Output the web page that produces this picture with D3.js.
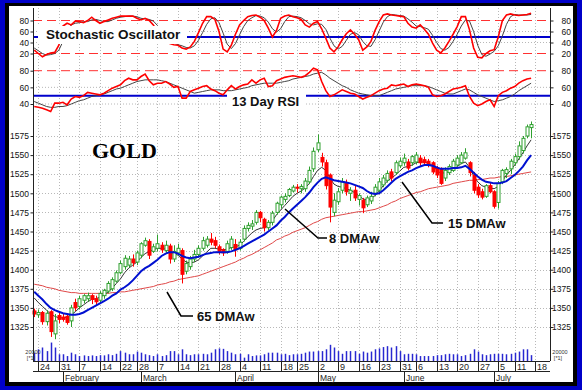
<!DOCTYPE html>
<html><head><meta charset="utf-8">
<script src="https://cdn.jsdelivr.net/npm/d3@7"></script>
<style>body{margin:0;background:#fff}svg{display:block}</style>
</head><body><script>
// ---------- DATA ----------
const dates = [
"01-21","01-24","01-25","01-26","01-27","01-28","01-31",
"02-01","02-02","02-03","02-04","02-07","02-08","02-09","02-10","02-11","02-14","02-15","02-16","02-17","02-18","02-22","02-23","02-24","02-25","02-28",
"03-01","03-02","03-03","03-04","03-07","03-08","03-09","03-10","03-11","03-14","03-15","03-16","03-17","03-18","03-21","03-22","03-23","03-24","03-25","03-28","03-29","03-30","03-31",
"04-01","04-04","04-05","04-06","04-07","04-08","04-11","04-12","04-13","04-14","04-15","04-18","04-19","04-20","04-21","04-25","04-26","04-27","04-28","04-29",
"05-02","05-03","05-04","05-05","05-06","05-09","05-10","05-11","05-12","05-13","05-16","05-17","05-18","05-19","05-20","05-23","05-24","05-25","05-26","05-27","05-31",
"06-01","06-02","06-03","06-06","06-07","06-08","06-09","06-10","06-13","06-14","06-15","06-16","06-17","06-20","06-21","06-22","06-23","06-24","06-27","06-28","06-29","06-30",
"07-01","07-05","07-06","07-07","07-08","07-11","07-12","07-13","07-14","07-15"];

const open = [
1346,1341,1344,1332,1345,1316,1340,1338,1339,1333,
1357,1352,1360,1362,1366,1362,1360,1366,1372,1375,
1385,1396,1404,1406,1414,1410,1419,1432,1437,1424,
1428,1432,1425,1431,1414,1422,1425,1398,1404,1414,
1420,1428,1432,1440,1438,1430,1426,1424,1429,1433,
1428,1440,1454,1457,1462,1475,1466,1455,1462,1475,
1485,1492,1497,1503,1508,1506,1506,1515,1532,1557,
1547,1540,1524,1475,1489,1504,1513,1500,1504,1492,
1491,1485,1490,1500,1504,1511,1517,1528,1527,1536,
1540,1541,1540,1541,1546,1544,1542,1540,1533,1531,
1520,1527,1530,1537,1540,1546,1540,1524,1508,1502,
1496,1510,1502,1488,1515,1526,1532,1540,1548,1556,1575,1586];
const high = [
1349,1348,1346,1347,1347,1342,1344,1342,1341,1354,
1362,1366,1368,1370,1368,1366,1372,1375,1385,1390,
1399,1412,1419,1418,1420,1425,1436,1442,1440,1434,
1446,1436,1438,1434,1432,1434,1428,1412,1418,1426,
1432,1443,1444,1448,1443,1433,1428,1438,1444,1440,
1440,1458,1462,1465,1478,1477,1468,1465,1477,1489,
1497,1500,1507,1511,1512,1512,1520,1535,1560,1577,
1553,1544,1526,1500,1507,1520,1518,1508,1510,1500,
1494,1497,1502,1512,1520,1524,1530,1532,1543,1547,
1552,1545,1550,1554,1550,1548,1545,1542,1536,1534,
1534,1538,1545,1550,1554,1559,1542,1528,1512,1506,
1512,1514,1504,1516,1532,1534,1545,1552,1568,1575,1590,1594];
const low = [
1338,1337,1328,1327,1312,1309,1330,1332,1328,1325,
1346,1348,1356,1358,1355,1354,1356,1362,1369,1372,
1383,1394,1400,1403,1404,1406,1415,1430,1414,1422,
1424,1422,1422,1408,1410,1418,1382,1394,1400,1410,
1416,1425,1429,1432,1428,1420,1418,1421,1426,1417,
1425,1437,1450,1452,1459,1462,1450,1452,1458,1472,
1480,1488,1495,1501,1501,1500,1502,1512,1528,1554,
1535,1505,1462,1470,1485,1500,1497,1490,1490,1484,
1474,1482,1486,1496,1500,1508,1514,1516,1524,1533,
1536,1530,1536,1538,1536,1536,1534,1525,1520,1511,
1516,1524,1528,1535,1538,1544,1522,1500,1494,1492,
1494,1500,1480,1480,1512,1520,1525,1536,1544,1552,1572,1572];
const close = [
1342,1344,1332,1343,1319,1333,1335,1335,1331,1350,
1350,1362,1366,1366,1361,1358,1369,1373,1382,1387,
1396,1408,1415,1414,1409,1422,1434,1438,1419,1430,
1434,1426,1432,1414,1424,1428,1394,1408,1414,1420,
1428,1438,1440,1436,1432,1424,1422,1434,1440,1426,
1436,1454,1458,1460,1475,1468,1455,1462,1474,1487,
1495,1496,1505,1508,1507,1509,1516,1530,1555,1566,
1541,1510,1482,1491,1502,1515,1502,1504,1494,1497,
1481,1494,1496,1508,1515,1520,1526,1520,1540,1542,
1546,1533,1548,1550,1540,1540,1537,1528,1524,1513,
1530,1535,1542,1546,1550,1553,1527,1504,1498,1495,
1510,1502,1483,1513,1530,1531,1542,1548,1562,1572,1587,1590];
// volume in thousands
const volume = [
18.5,26,30,22,41,30,15,15,11,18.5,
15,11,12.5,11,12.5,11,13,12.5,15,13,
16,22,18.5,15,15,21,18.5,15,13,11,
15,11,13,22,22,15,26,15,13,15,
15,16,15,18.5,26,28,27,22,18.5,15,
16,7.5,15,11,12.5,12.5,15,18.5,18.5,18.5,
15,16,13,15,15,16,18.5,21,21,22,
22,26,36,30,22,16,22,22,22,16,
21,18.5,21,26,28,31,33,30,33,22,
15,16,16,15,11,11,11,11,13,13,
15,16,15,15,11,13,16,26,21,15,
13,15,16,16,16,15,16,18.5,21,26,26,13];
const ma8 = [
1363,1357,1352,1347,1342,1339,1337,1337,1338,1341,
1345,1350,1354,1358,1361,1362,1364,1367,1371,1376,
1382,1388,1396,1402,1406,1410,1416,1421,1424,1426,
1428,1428,1427,1424,1421,1419,1414,1410,1409,1410,
1413,1418,1423,1428,1428,1427,1426,1427,1429,1430,
1432,1437,1443,1448,1452,1454,1455,1458,1464,1472,
1478,1484,1490,1496,1500,1503,1507,1513,1522,1530,
1534,1530,1520,1512,1509,1508,1506,1504,1501,1497,
1493,1491,1493,1497,1503,1510,1516,1520,1524,1529,
1534,1535,1537,1540,1541,1541,1540,1536,1531,1526,
1527,1528,1531,1535,1539,1541,1534,1523,1515,1510,
1508,1507,1506,1509,1516,1524,1530,1537,1545,1553,1562,1570];
const ma15 = [
1371,1366,1361,1355,1350,1347,1345,1343,1342,1341,
1341,1342,1344,1347,1350,1353,1356,1359,1362,1366,
1369,1374,1377,1381,1386,1392,1398,1402,1405,1409,
1413,1418,1421,1423,1423,1421,1418,1416,1415,1416,
1417,1419,1421,1422,1423,1423,1423,1423,1424,1426,
1428,1431,1434,1437,1440,1443,1446,1450,1454,1458,
1464,1469,1475,1480,1485,1490,1495,1501,1508,1514,
1519,1521,1519,1517,1516,1515,1514,1513,1511,1509,
1507,1503,1500,1499,1500,1504,1509,1514,1519,1522,
1525,1528,1530,1533,1535,1537,1537,1536,1534,1532,
1532,1532,1533,1533,1534,1536,1532,1527,1522,1518,
1515,1514,1513,1513,1514,1516,1520,1524,1529,1535,1543,1550];
const ma65 = [
1381,1380,1379,1377,1376,1375,1373,1372,1371,1370,
1370,1369,1369,1369,1369,1369,1369,1369,1369,1370,
1370,1371,1371,1372,1373,1374,1375,1376,1377,1378,
1380,1381,1382,1384,1385,1387,1388,1389,1390,1391,
1392,1394,1396,1398,1400,1402,1404,1406,1408,1410,
1413,1415,1418,1420,1423,1426,1429,1432,1435,1439,
1441,1444,1446,1449,1451,1453,1455,1458,1461,1463,
1466,1468,1469,1470,1471,1472,1473,1474,1475,1476,
1476,1477,1478,1479,1481,1483,1485,1488,1490,1493,
1495,1497,1499,1501,1502,1504,1506,1507,1508,1509,
1510,1511,1513,1514,1515,1516,1517,1517,1518,1518,
1519,1520,1520,1521,1522,1522,1523,1524,1525,1526,1527,1528];
const stochK = [
26,20,14,18,21,22,35,70,75,72,
79,78,76,80,86,80,75,78,81,84,
86,88,88,88,88,84,81,84,80,72,
60,50,42,38,36,35,30,28,32,42,
58,75,87,87,82,60,28,23,35,55,
72,80,87,89,90,86,80,66,50,62,
84,88,90,87,85,82,72,68,75,78,
65,48,30,23,32,45,56,63,55,45,
26,32,42,62,78,90,92,90,89,88,
87,75,68,66,72,64,55,39,26,21,
30,42,55,69,87,87,63,30,13,12,
20,25,27,50,80,90,92,90,89,90,91,93];
const stochD = [
30,25,20,17,18,20,26,42,60,72,
75,76,78,78,81,82,80,78,78,81,
84,86,87,88,88,87,84,83,82,79,
71,61,51,43,39,36,34,31,30,34,
44,58,73,83,85,76,57,37,29,38,
54,69,80,85,89,88,85,77,65,59,
65,78,87,88,87,85,80,74,72,74,
73,64,48,34,28,33,44,55,58,54,
42,34,33,45,61,77,87,91,90,89,
88,83,77,70,69,67,64,53,40,29,
26,31,42,55,70,81,79,60,35,18,
15,19,24,34,52,73,87,91,90,90,90,91];
const rsi = [
37,36,35,33,31,41,41,42,39,46,
49,48,50,54,53,52,51,53,56,59,
61,63,68,71,69,69,73,76,68,63,
65,65,67,64,60,61,47,47,55,57,
59,61,62,58,56,53,51,57,62,58,
61,63,64,69,65,69,71,61,62,68,
70,72,73,74,73,72,74,78,83,81,
67,56,49,51,54,57,55,53,52,49,
46,48,50,53,56,58,59,63,62,63,
64,61,63,64,63,62,60,51,49,50,
52,55,58,59,60,62,49,41,38,40,
43,45,37,50,54,56,59,61,65,68,70,71];
const rsiAvg = [
43,41,39,37,36,36,37,37,38,40,
42,44,45,47,49,50,51,52,54,56,
58,59,61,63,65,67,68,69,69,69,
69,68,67,65,63,61,59,57,55,53,
54,55,56,57,57,57,56,56,56,57,
58,59,60,62,63,64,65,65,65,65,
66,67,68,70,71,72,73,74,76,77,
78,75,71,68,65,62,60,57,55,53,
52,51,50,50,50,52,54,56,58,59,
60,61,62,62,62,62,61,59,57,55,
53,52,52,54,56,58,57,54,51,49,
47,45,43,44,45,47,49,52,56,59,62,65];

const priceTicks = [1325,1350,1375,1400,1425,1450,1475,1500,1525,1550,1575];
const stochTicks = [20,40,60,80];
const rsiTicks = [40,60,80];
const weekTicks = ["01-24","01-31","02-07","02-14","02-22","02-28","03-07","03-14","03-21","03-28","04-04","04-11","04-18","04-25","05-02","05-09","05-16","05-23","05-31","06-06","06-13","06-20","06-27","07-05","07-11","07-18"];
const months = ["February","March","April","May","June","July"];
const monthStarts = ["02-01","03-01","04-01","05-02","06-01","07-01"];

// ---------- CHART ----------
const W = 582, H = 390;
const FONT = "'Liberation Sans', Arial, sans-serif";
const svg = d3.select("body").append("svg").attr("width", W).attr("height", H)
  .style("font-family", FONT);

svg.append("rect").attr("width", W).attr("height", H).attr("fill", "#0000c8");
svg.append("rect").attr("x", 5).attr("y", 3).attr("width", 572).attr("height", 383).attr("fill", "#000");
svg.append("rect").attr("x", 9).attr("y", 6).attr("width", 564).attr("height", 376).attr("fill", "#fff");

const idxOf = d => { const k = dates.indexOf(d); return k >= 0 ? k : dates.length; };
const x = d3.scaleLinear().domain([-0.3, 125.6]).range([33, 550]);
const yS = d3.scaleLinear().domain([0, 100]).range([64.5, 9.5]);
const yR = d3.scaleLinear().domain([40, 80]).range([104, 70.7]);
const yP = d3.scaleLinear().domain([1325, 1575]).range([327, 136]);
const yV = d3.scaleLinear().domain([0, 20]).range([361, 352]);

const L = 33, R = 550, TOP = 8, BOT = 361;

// grid
const grid = svg.append("g").attr("stroke", "#b8b8b8").attr("stroke-dasharray", "1,2").attr("stroke-width", 1);
weekTicks.forEach(t => {
  const xx = Math.round(x(idxOf(t))) + 0.5;
  grid.append("line").attr("x1", xx).attr("x2", xx).attr("y1", TOP).attr("y2", BOT);
});
priceTicks.forEach(v => grid.append("line").attr("x1", L).attr("x2", R).attr("y1", Math.round(yP(v)) + 0.5).attr("y2", Math.round(yP(v)) + 0.5));
[40, 60].forEach(v => grid.append("line").attr("x1", L).attr("x2", R).attr("y1", yS(v)).attr("y2", yS(v)));
[40, 60].forEach(v => grid.append("line").attr("x1", L).attr("x2", R).attr("y1", yR(v)).attr("y2", yR(v)));

// reference lines
const ref = svg.append("g");
[yS(80), yS(20), yR(80)].forEach(yy =>
  ref.append("line").attr("x1", L).attr("x2", R).attr("y1", yy).attr("y2", yy)
    .attr("stroke", "#ff3030").attr("stroke-width", 1).attr("stroke-dasharray", "9,5"));
[yS(50), yR(50)].forEach(yy =>
  ref.append("line").attr("x1", L).attr("x2", R).attr("y1", yy).attr("y2", yy)
    .attr("stroke", "#0000cc").attr("stroke-width", 2));

// indicator lines
const lineOf = (arr, ys) => d3.line().x((d, i) => x(i)).y(d => ys(d))(arr);
svg.append("path").attr("d", lineOf(stochD, yS)).attr("fill", "none").attr("stroke", "#444").attr("stroke-width", 1);
svg.append("path").attr("d", lineOf(stochK, yS)).attr("fill", "none").attr("stroke", "#ff0000").attr("stroke-width", 1.6);
svg.append("path").attr("d", lineOf(rsiAvg, yR)).attr("fill", "none").attr("stroke", "#444").attr("stroke-width", 1);
svg.append("path").attr("d", lineOf(rsi, yR)).attr("fill", "none").attr("stroke", "#ff0000").attr("stroke-width", 1.6);

// moving averages
svg.append("path").attr("d", lineOf(ma65, yP)).attr("fill", "none").attr("stroke", "#e04848").attr("stroke-width", 1);
svg.append("path").attr("d", lineOf(ma8, yP)).attr("fill", "none").attr("stroke", "#333").attr("stroke-width", 1);

// candles
const cg = svg.append("g");
dates.forEach((d, i) => {
  const up = close[i] >= open[i];
  const col = up ? "#2ea02e" : "#ff0000";
  const xx = Math.round(x(i)) + 0.5;
  cg.append("line").attr("x1", xx).attr("x2", xx).attr("y1", yP(high[i])).attr("y2", yP(low[i]))
    .attr("stroke", col).attr("stroke-width", 1);
  const y1 = yP(Math.max(open[i], close[i])), y2 = yP(Math.min(open[i], close[i]));
  cg.append("rect").attr("x", xx - 1.5).attr("y", y1).attr("width", 3).attr("height", Math.max(1, y2 - y1))
    .attr("fill", up ? "#fff" : "#ff0000").attr("stroke", col).attr("stroke-width", 1);
});
svg.append("path").attr("d", lineOf(ma15, yP)).attr("fill", "none").attr("stroke", "#0010d0").attr("stroke-width", 2);

// volume
svg.append("g").selectAll("line").data(volume).join("line")
  .attr("x1", (d, i) => Math.round(x(i)) + 0.5).attr("x2", (d, i) => Math.round(x(i)) + 0.5)
  .attr("y1", yV(0)).attr("y2", d => yV(d)).attr("stroke", "#2828d0").attr("stroke-width", 1.5);

// axes lines
const ax = svg.append("g").attr("stroke", "#222").attr("stroke-width", 1);
ax.append("line").attr("x1", L + 0.5).attr("x2", L + 0.5).attr("y1", TOP).attr("y2", BOT);
ax.append("line").attr("x1", R + 0.5).attr("x2", R + 0.5).attr("y1", TOP).attr("y2", BOT);

function sideAxis(scale, ticks) {
  const fmt = d3.format("d");
  const gl = svg.append("g").attr("transform", `translate(${L + 0.5},0)`)
    .call(d3.axisLeft(scale).tickValues(ticks).tickFormat(fmt).tickSize(3).tickPadding(1.5));
  const gr = svg.append("g").attr("transform", `translate(${R + 0.5},0)`)
    .call(d3.axisRight(scale).tickValues(ticks).tickFormat(fmt).tickSize(3).tickPadding(1.5));
  [gl, gr].forEach(g => {
    g.select(".domain").remove();
    g.selectAll("text").attr("font-size", 8.5).attr("fill", "#111").attr("font-family", FONT);
    g.selectAll("line").attr("stroke", "#222");
  });
  gr.selectAll("text").attr("text-anchor", "end").attr("x", 571 - (R + 0.5));
}
sideAxis(yP, priceTicks);
sideAxis(yS, stochTicks);
sideAxis(yR, rsiTicks);

// volume scale label
[[L, "middle"], [560, "middle"]].forEach(([xx, an]) => {
  svg.append("text").attr("x", xx).attr("y", 354).attr("text-anchor", an).attr("font-size", 5.5).attr("fill", "#333").text("20000");
  svg.append("text").attr("x", xx - 2).attr("y", 360).attr("text-anchor", an).attr("font-size", 5.5).attr("fill", "#333").text("[*1]");
});

// date axis
const dx = svg.append("g");
dx.append("line").attr("x1", L).attr("x2", R).attr("y1", BOT + 0.5).attr("y2", BOT + 0.5).attr("stroke", "#222");
dx.append("line").attr("x1", L).attr("x2", R).attr("y1", 371.5).attr("y2", 371.5).attr("stroke", "#222");
weekTicks.forEach(t => {
  const xx = Math.round(x(idxOf(t))) + 0.5;
  dx.append("line").attr("x1", xx).attr("x2", xx).attr("y1", BOT).attr("y2", 371.5).attr("stroke", "#222");
  dx.append("text").attr("x", xx + 1.5).attr("y", 370).attr("font-size", 9).attr("fill", "#222").text(+t.slice(3));
});
months.forEach((m, k) => {
  const xx = Math.round(x(idxOf(monthStarts[k]))) + 0.5;
  dx.append("line").attr("x1", xx).attr("x2", xx).attr("y1", 371.5).attr("y2", 382).attr("stroke", "#222");
  dx.append("text").attr("x", xx + 1.5).attr("y", 381).attr("font-size", 8.5).attr("fill", "#222").text(m);
});

// annotations
svg.append("rect").attr("x", 38).attr("y", 26).attr("width", 149).attr("height", 18).attr("fill", "#fff");
svg.append("text").attr("x", 46).attr("y", 39).attr("font-size", 13.5).attr("font-weight", "bold").attr("fill", "#111").text("Stochastic Oscillator");
svg.append("rect").attr("x", 227).attr("y", 92).attr("width", 79).attr("height", 18).attr("fill", "#fff");
svg.append("text").attr("x", 232).attr("y", 106).attr("font-size", 13).attr("font-weight", "bold").attr("fill", "#111").text("13 Day RSI");
svg.append("text").attr("x", 92).attr("y", 158).attr("font-size", 22).attr("font-weight", "bold")
  .attr("font-family", "'Liberation Serif', 'Times New Roman', serif").attr("fill", "#000").text("GOLD");

const notes = [
  {pts: [[285, 209], [318, 238], [327, 238]], tx: 329, ty: 243, t: "8 DMAw"},
  {pts: [[402, 182], [432, 223], [443, 223]], tx: 448, ty: 228, t: "15 DMAw"},
  {pts: [[167, 292], [181, 316], [193, 316]], tx: 197, ty: 321, t: "65 DMAw"}
];
notes.forEach(n => {
  svg.append("path").attr("d", d3.line()(n.pts)).attr("fill", "none").attr("stroke", "#000").attr("stroke-width", 1.5);
  svg.append("text").attr("x", n.tx).attr("y", n.ty).attr("font-size", 13).attr("font-weight", "bold").attr("fill", "#111").text(n.t);
});
</script></body></html>
